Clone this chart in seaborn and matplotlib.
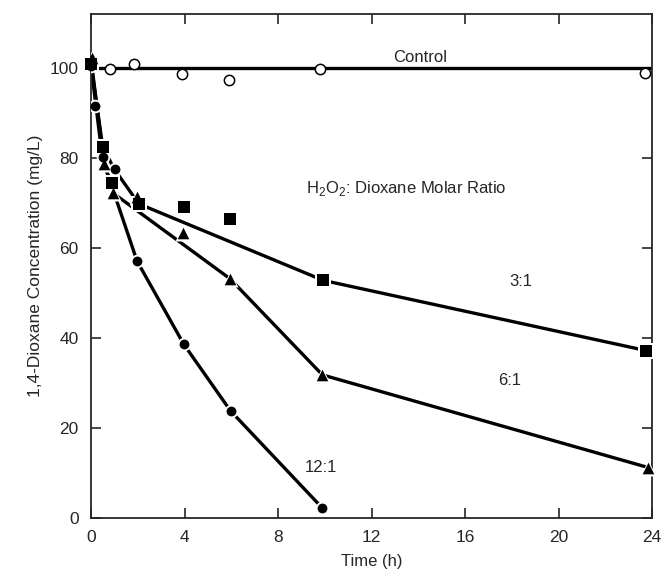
import numpy as np
import pandas as pd
import matplotlib
matplotlib.use("Agg")
import matplotlib.pyplot as plt
import seaborn as sns

t_control = [0.83, 1.85, 3.9, 5.9, 9.8, 23.7]
c_control = [99.7, 100.8, 98.6, 97.4, 99.8, 98.8]

t_31 = [0, 0.5, 0.9, 2.05, 3.98, 5.94, 9.94, 23.75]
c_31 = [101, 82.5, 74.4, 69.8, 69.2, 66.4, 52.8, 37.2]

t_61 = [0.05, 0.57, 0.95, 1.97, 3.92, 5.94, 9.9, 23.85]
c_61 = [102.3, 78.6, 72.3, 71.3, 63.3, 53.2, 31.8, 11.2]

t_121 = [0, 0.17, 0.53, 1.02, 1.97, 3.97, 5.97, 9.9]
c_121 = [100.5, 91.5, 80.2, 77.6, 57.1, 38.6, 23.8, 2.2]

# Curvas ajustadas (vértices)
fit_control_t = [0, 24]
fit_control_c = [100, 100]
fit_31_t = [0, 0.5, 1.0, 2.05, 9.94, 23.75]
fit_31_c = [101, 82.5, 77.5, 69.8, 52.8, 37.2]
fit_61_t = [0, 0.55, 1.0, 5.94, 9.9, 23.85]
fit_61_c = [102, 79.0, 72.0, 53.2, 31.8, 11.2]
fit_121_t = [0, 0.5, 1.0, 1.97, 3.97, 5.97, 9.9]
fit_121_c = [100.5, 79.5, 72.0, 57.1, 38.6, 23.8, 2.2]

ratios = ["Control", "3:1", "6:1", "12:1"]
markers = {"Control": "o", "3:1": "s", "6:1": "^", "12:1": "o"}

pontos = pd.concat([
    pd.DataFrame({"t": t_control, "c": c_control, "serie": "Control"}),
    pd.DataFrame({"t": t_31, "c": c_31, "serie": "3:1"}),
    pd.DataFrame({"t": t_61, "c": c_61, "serie": "6:1"}),
    pd.DataFrame({"t": t_121, "c": c_121, "serie": "12:1"}),
])
curvas = pd.concat([
    pd.DataFrame({"t": fit_control_t, "c": fit_control_c, "serie": "Control"}),
    pd.DataFrame({"t": fit_31_t, "c": fit_31_c, "serie": "3:1"}),
    pd.DataFrame({"t": fit_61_t, "c": fit_61_c, "serie": "6:1"}),
    pd.DataFrame({"t": fit_121_t, "c": fit_121_c, "serie": "12:1"}),
])

sns.set_style("ticks")
plt.rcParams["font.family"] = ["Liberation Sans", "DejaVu Sans"]
plt.rcParams["mathtext.fontset"] = "custom"
plt.rcParams["mathtext.rm"] = "Liberation Sans"

fig = plt.figure(figsize=(6.63, 5.75), dpi=100)
ax = fig.add_axes([91 / 663, 1 - 518 / 575, (652 - 91) / 663, (518 - 14) / 575])

sns.lineplot(data=curvas, x="t", y="c", units="serie", estimator=None,
             color="black", linewidth=2.4, sort=False, ax=ax, zorder=2)

# marcadores com halo branco (interrompe a linha como no original)
for s in ratios:
    d = pontos[pontos["serie"] == s]
    if s == "Control":
        sns.scatterplot(data=d, x="t", y="c", marker="o", s=55, facecolor="white",
                        edgecolor="black", linewidth=1.1, ax=ax, zorder=4, clip_on=False)
    else:
        tam = {"3:1": 70, "6:1": 70, "12:1": 50}[s]
        sns.scatterplot(data=d, x="t", y="c", marker=markers[s], s=tam * 1.9,
                        color="white", linewidth=0, ax=ax, zorder=3)
        sns.scatterplot(data=d, x="t", y="c", marker=markers[s], s=tam,
                        color="black", linewidth=0, ax=ax, zorder=4, clip_on=False)

ax.set_xlim(0, 24)
ax.set_ylim(0, 112)
ax.set_xticks(np.arange(0, 25, 4))
ax.set_yticks(np.arange(0, 101, 20))
ax.tick_params(direction="in", top=True, right=True, length=7, width=1.2,
               labelsize=12.5, pad=9)
for sp in ax.spines.values():
    sp.set_linewidth(1.3)

ax.set_xlabel("Time (h)", fontsize=12, labelpad=6)
ax.set_ylabel("1,4-Dioxane Concentration (mg/L)", fontsize=12.5, labelpad=5)

ax.text(14.1, 102.3, "Control", fontsize=12, ha="center", va="center")
ax.text(9.2, 73.3, "H$_2$O$_2$: Dioxane Molar Ratio", fontsize=12, ha="left", va="center")
ax.text(18.4, 52.5, "3:1", fontsize=12, ha="center", va="center")
ax.text(17.9, 30.5, "6:1", fontsize=12, ha="center", va="center")
ax.text(9.85, 11.3, "12:1", fontsize=12, ha="center", va="center")

fig.savefig("out.png", dpi=100)
